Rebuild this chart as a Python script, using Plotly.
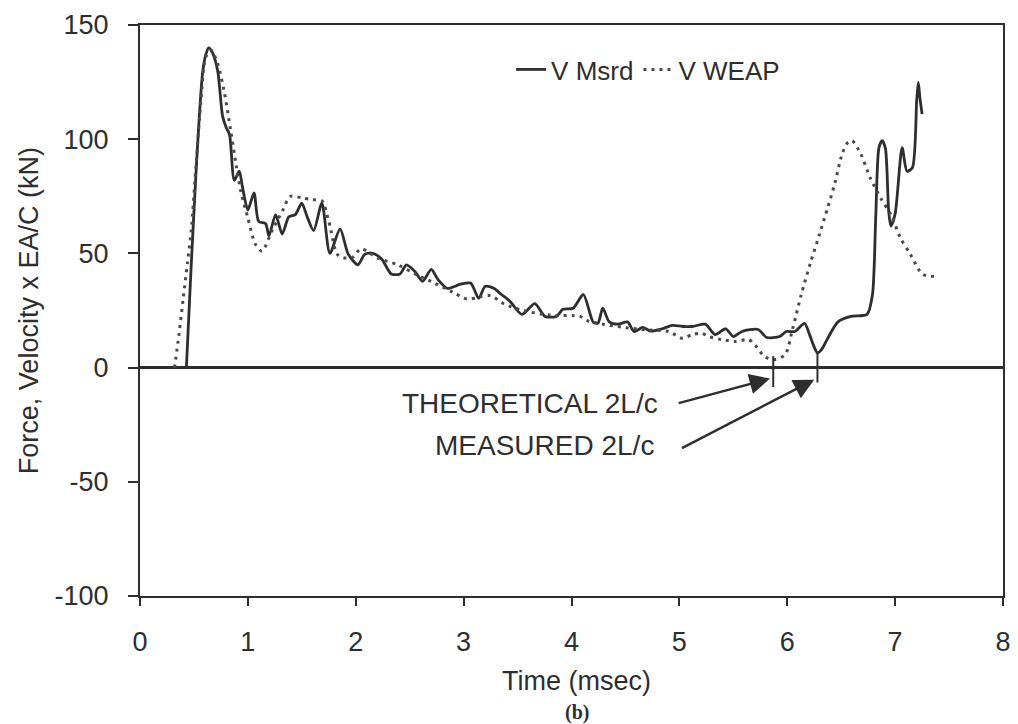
import plotly.graph_objects as go

# Measured velocity record (time in msec, value in kN)
msrd_t = [0.43, 0.45, 0.475, 0.52, 0.55, 0.58, 0.61, 0.637, 0.67, 0.72, 0.766, 0.80, 0.83, 0.874,
          0.92, 0.95, 1.0, 1.057, 1.10, 1.165, 1.195, 1.257, 1.318, 1.38, 1.44, 1.50, 1.55, 1.61,
          1.686, 1.76, 1.855, 1.93, 2.02, 2.085, 2.16, 2.24, 2.33, 2.41, 2.47, 2.55, 2.62, 2.70,
          2.76, 2.85, 2.97, 3.065, 3.14, 3.20, 3.28, 3.35, 3.43, 3.54, 3.66, 3.755, 3.86, 3.92,
          4.015, 4.11, 4.20, 4.245, 4.29, 4.35, 4.43, 4.52, 4.58, 4.66, 4.735, 4.84, 4.935, 5.03,
          5.12, 5.24, 5.33, 5.43, 5.50, 5.58, 5.73, 5.81, 5.93, 5.99, 6.07, 6.16, 6.21, 6.25, 6.28,
          6.32, 6.375, 6.47, 6.59, 6.74, 6.79, 6.82, 6.85, 6.88, 6.91, 6.94, 6.96, 7.00, 7.065, 7.11,
          7.16, 7.20, 7.215, 7.23, 7.25]
msrd_v = [0, 20, 45, 86, 110, 129, 137, 140, 138, 130, 110, 105, 102, 82,
          86, 79, 69, 76.5, 64, 63, 57.6, 67, 58.5, 66, 67, 72, 66, 60,
          72, 50, 60.7, 49.7, 45, 49.7, 50, 47.5, 41, 41, 45, 42, 37.8, 43,
          38.7, 34.7, 36.5, 37, 30.3, 35.6, 34.7, 32, 29, 23.3, 28, 22.4, 22.4, 25.5,
          26, 32, 20, 19.4, 26, 20, 19, 20, 15.8, 17.6, 16, 17, 18.5, 18,
          18, 19, 14.5, 17, 13.6, 15.8, 16.7, 13.2, 13.6, 15.8, 15.8, 19.4, 14, 9, 6.5,
          8, 12.8, 20, 22.4, 23.3, 32, 65.5, 96.3, 99.4, 96, 68.6, 62, 67.3, 96.3, 86,
          87.5, 117, 125, 118, 111]

# WEAP computed velocity
weap_t = [0.32, 0.36, 0.40, 0.44, 0.475, 0.52, 0.567, 0.61, 0.66, 0.72, 0.78, 0.84, 0.89, 0.935,
          1.0, 1.07, 1.13, 1.225, 1.32, 1.395, 1.50, 1.60, 1.686, 1.75, 1.84, 1.96, 2.05, 2.20,
          2.39, 2.55, 2.73, 2.90, 3.03, 3.15, 3.25, 3.37, 3.55, 3.80, 4.08, 4.14, 4.29, 4.50,
          4.70, 4.90, 5.03, 5.12, 5.21, 5.27, 5.39, 5.52, 5.64, 5.70, 5.79, 5.885, 5.98, 6.05,
          6.13, 6.22, 6.30, 6.375, 6.44, 6.51, 6.56, 6.60, 6.68, 6.77, 6.865, 6.96, 7.05, 7.14,
          7.25, 7.33, 7.40]
weap_v = [0, 14, 30, 46, 60, 89, 118, 136, 139, 133, 121, 104, 89, 77,
          65.5, 54, 51, 60, 68.6, 75, 74.3, 73.5, 73, 64, 49, 48, 52, 48,
          45, 41, 37, 33, 30, 31, 31.5, 28, 25, 23, 22.4, 20.7, 19, 17.5,
          16.5, 15.8, 12.8, 14.5, 15, 13.6, 12.3, 11.4, 12.3, 10, 4.8, 3.5, 5.7, 17,
          32, 46.6, 58.5, 70, 80.5, 93.7, 98.5, 99.4, 93.7, 83, 74.3, 67, 56.7, 49.7,
          41, 40, 40]

x_ticks = [0, 1, 2, 3, 4, 5, 6, 7, 8]
x_tick_text = ["0", "1", "2", "3", "4", "5", "6", "7", "8"]
y_ticks = [-100, -50, 0, 50, 100, 150]
y_tick_text = ["-100", "-50", "0", "50", "100", "150"]

# 2L/c times marked below the zero line
theo_2lc = 5.87
meas_2lc = 6.28

INK = "#2e2e2e"
FONT = "Liberation Sans"

fig = go.Figure()
fig.add_trace(go.Scatter(x=msrd_t, y=msrd_v, mode="lines", name="V Msrd",
                         line=dict(color=INK, width=2.8, shape="spline", smoothing=0.7)))
fig.add_trace(go.Scatter(x=weap_t, y=weap_v, mode="lines", name="V WEAP",
                         line=dict(color="#4a4a4a", width=3, dash="3px,5px",
                                   shape="spline", smoothing=0.8)))

# Vertical markers at the two 2L/c times
fig.add_shape(type="line", x0=theo_2lc, x1=theo_2lc, y0=5, y1=-8.5,
              line=dict(color=INK, width=2))
fig.add_shape(type="line", x0=meas_2lc, x1=meas_2lc, y0=6.5, y1=-6.5,
              line=dict(color=INK, width=2))

# Arrows pointing at the markers
for tail, head in [((4.98, -15.7), (theo_2lc - 0.03, -4.8)),
                   ((5.01, -35.6), (meas_2lc - 0.03, -5.3))]:
    fig.add_annotation(x=head[0], y=head[1], ax=tail[0], ay=tail[1],
                       xref="x", yref="y", axref="x", ayref="y", text="",
                       showarrow=True, arrowhead=2, arrowsize=1.7,
                       arrowwidth=2.4, arrowcolor=INK)

fig.add_annotation(x=4.82, y=-15.8, xref="x", yref="y", text="THEORETICAL 2L/c",
                   showarrow=False, xanchor="right", yanchor="middle",
                   font=dict(family=FONT, size=28, color=INK))
fig.add_annotation(x=4.78, y=-33.9, xref="x", yref="y", text="MEASURED 2L/c",
                   showarrow=False, xanchor="right", yanchor="middle",
                   font=dict(family=FONT, size=28, color=INK))

# Axis titles and caption
fig.add_annotation(x=-0.129, y=0.5, xref="paper", yref="paper",
                   text="Force, Velocity x EA/C (kN)", textangle=-90,
                   showarrow=False, xanchor="center", yanchor="middle",
                   font=dict(family=FONT, size=27, color=INK))
fig.add_annotation(x=0.506, y=-0.148, xref="paper", yref="paper",
                   text="Time (msec)", showarrow=False,
                   xanchor="center", yanchor="middle",
                   font=dict(family=FONT, size=27, color=INK))
fig.add_annotation(x=0.506, y=-0.204, xref="paper", yref="paper",
                   text="<b>(b)</b>", showarrow=False,
                   xanchor="center", yanchor="middle",
                   font=dict(family="Liberation Serif", size=20, color=INK))

fig.update_xaxes(range=[0, 8], tickvals=x_ticks, ticktext=x_tick_text,
                 ticks="outside", ticklen=8,
                 tickwidth=2, tickcolor=INK, showline=True, linewidth=2,
                 linecolor=INK, mirror=True, showgrid=False, zeroline=False,
                 ticklabelstandoff=13,
                 tickfont=dict(family=FONT, size=27, color=INK))
fig.update_yaxes(range=[-100, 150], tickvals=y_ticks, ticktext=y_tick_text,
                 ticks="outside", ticklen=10,
                 tickwidth=2, tickcolor=INK, showline=True, linewidth=2,
                 linecolor=INK, mirror=True, showgrid=False, zeroline=True,
                 zerolinecolor=INK, zerolinewidth=2.5, ticklabelstandoff=14,
                 tickfont=dict(family=FONT, size=27, color=INK))

fig.update_layout(
    width=1018, height=724,
    margin=dict(l=140, r=7, t=25, b=128),
    paper_bgcolor="white", plot_bgcolor="white",
    showlegend=True,
    legend=dict(orientation="h", x=0.43, y=0.922, xanchor="left", yanchor="middle",
                bgcolor="rgba(0,0,0,0)", font=dict(family=FONT, size=26, color=INK),
                itemwidth=30, tracegroupgap=0),
)

fig.write_html("out.html")
